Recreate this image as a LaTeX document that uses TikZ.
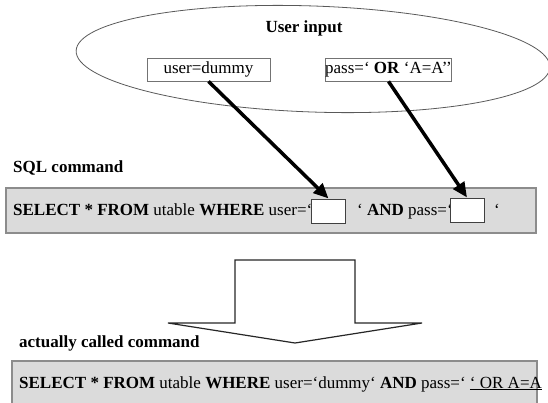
\documentclass[tikz,border=0pt]{standalone}
\usepackage{fontspec}
\setmainfont{Liberation Serif}
\usetikzlibrary{arrows.meta}
\usetikzlibrary{shapes.geometric}

\begin{document}
\begin{tikzpicture}[x=1pt, y=-1pt,
    every node/.style={font=\fontsize{17}{20}\selectfont},
    inbox/.style={draw=black!55, line width=0.8pt, inner xsep=0pt, inner ysep=0pt, minimum width=123pt, minimum height=23pt},
    sqlbox/.style={draw=black!45, fill=black!14, line width=1.2pt},
    hole/.style={draw=black!75, fill=white, line width=1pt, inner sep=0pt, minimum width=34pt, minimum height=24pt},
    plain/.style={anchor=base west, inner sep=0pt},
    feed/.style={line width=3.5pt, -{Triangle[length=15pt, width=13pt]}}]
    \useasboundingbox (0,0) rectangle (548,402);

    % draw user input
    \node[ellipse, draw=black!65, line width=0.8pt, minimum width=474pt, minimum height=106pt, rotate=-2] (cloud) at (313,59) {};
    \node[anchor=base, inner sep=0pt] (title) at (304,32) {\textbf{User input}};
    \node[inbox] (user) at (208.5,69.5) {user=dummy};
    \node[inbox] (pass) at (388.5,69.5) {pass=‘ \textbf{OR} ‘A=A’’};

    % draw sql command
    \node[plain] (sqllabel) at (13,172) {\textbf{SQL command}};
    \draw[sqlbox] (6,188) rectangle (536,233);
    \node[plain] (sqla) at (13,215) {\textbf{SELECT * FROM} utable \textbf{WHERE} user=‘};
    \node[hole] (hole1) at (328.5,211) {};
    \node[plain] (sqlb) at (357,215) {‘ \textbf{AND} pass=‘};
    \node[hole] (hole2) at (467,210) {};
    \node[plain] (sqlc) at (494,215) {‘};

    % draw arrows
    \draw[feed] (user.south) -- (hole1.north);
    \draw[feed] (pass.south) -- (hole2.north);

    % draw big arrow
    \draw[line width=1.2pt, black!85, line join=miter]
      (235,323) -- (235,260) -- (355,260) -- (355,323) -- (422,323) -- (295,343) -- (168,323) -- cycle;

    % draw called command
    \node[plain] (calllabel) at (19,347) {\textbf{actually called command}};
    \draw[sqlbox] (12,361) rectangle (537,410);
    \node[plain] (called) at (19,388) {\textbf{SELECT * FROM} utable \textbf{WHERE} user=‘dummy‘ \textbf{AND} pass=‘ \underline{‘ OR A=A}};
  \end{tikzpicture}
\end{document}
